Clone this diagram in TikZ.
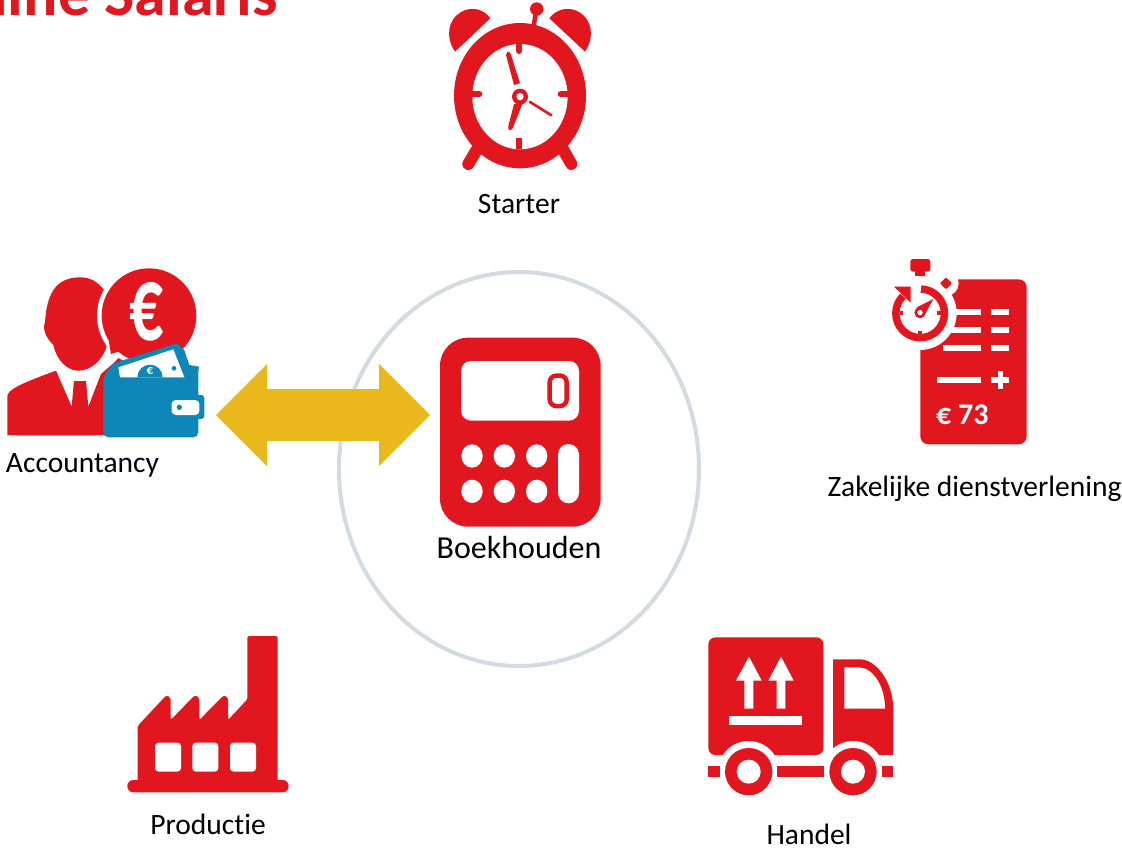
\documentclass[tikz,border=0pt]{standalone}
\usepackage{fontspec}
\setmainfont[Ligatures=NoCommon]{Carlito}
\definecolor{brandred}{HTML}{E2161F}
\definecolor{walletblue}{HTML}{0E86B8}
\definecolor{arrowgold}{HTML}{E9B81A}
\definecolor{ringgrey}{HTML}{D3DBE1}
\tikzset{
  lbl/.style={font=\fontsize{29.5}{32}\selectfont,text=black,inner sep=0pt},
  icon/.style={shift={#1},scale=1/3}
}
\begin{document}
\begin{tikzpicture}[x=1pt,y=-1pt]
\useasboundingbox (0,0) rectangle (1122,848);
\clip (0,0) rectangle (1122,848);
\node[anchor=base east,inner sep=0pt,text=brandred,font=\fontsize{64}{66}\selectfont\bfseries] (title) at (278,16) {Online Salaris};
% ring
\draw[ringgrey,line width=4pt] (519,469) ellipse [x radius=180,y radius=197];
% double arrow
\fill[arrowgold] (216,415) -- (267,364) -- (267,389) -- (379,389) -- (379,364) -- (430,415) -- (379,466) -- (379,441) -- (267,441) -- (267,466) -- cycle;
% clock
\begin{scope}[icon={(430,0)}]
 \fill[brandred] (75,155) .. controls (45,110) and (55,60) .. (90,38) .. controls (120,18) and (160,25) .. (181,55) -- cycle;
 \fill[brandred] (465,155) .. controls (495,110) and (485,60) .. (450,38) .. controls (420,18) and (380,25) .. (358,55) -- cycle;
 \fill[brandred] (320,27) circle [radius=20];
 \draw[brandred,line width=4.5pt] (317,40) -- (311,80);
 \draw[brandred,line width=12pt,line cap=round] (140,450) -- (115,492);
 \draw[brandred,line width=12pt,line cap=round] (400,450) -- (424,492);
 \fill[brandred] (270,287) ellipse [x radius=198,y radius=218];
 \fill[white] (270,290) ellipse [x radius=143,y radius=158];
 \draw[brandred,line width=6pt,line cap=round] (268,135) -- (268,153);
 \draw[brandred,line width=6pt,line cap=round] (125,283) -- (148,283);
 \draw[brandred,line width=6pt,line cap=round] (415,283) -- (392,283);
 \draw[brandred,line width=6pt] (268,448) -- (268,415);
 \fill[brandred] (228,165) .. controls (230,152) and (240,152) .. (243,165) -- (270,250) -- (252,255) -- cycle;
 \fill[brandred] (252,312) -- (277,312) -- (248,385) .. controls (242,395) and (232,390) .. (235,378) -- cycle;
 \draw[brandred,line width=2.6pt,line cap=round] (300,306) -- (364,346);
 \fill[brandred] (270,290) circle [radius=24];
 \fill[white] (270,290) circle [radius=11];
\end{scope}
\node[lbl] (starter) at (519,204.5) {Starter};
% accountancy
\begin{scope}[icon={(0,250)}]
 \fill[brandred] (22,556) -- (22,438) .. controls (25,420) and (50,405) .. (168,362) -- (215,470) -- (222,393) -- (258,393) -- (265,470) -- (303,372) -- (340,340) -- (380,300) -- (420,320) -- (420,556) -- cycle;
 \fill[brandred] (235,82) .. controls (270,80) and (295,95) .. (320,130) -- (320,290) .. controls (305,335) and (270,362) .. (235,362) .. controls (200,362) and (170,330) .. (160,285) .. controls (145,270) and (125,245) .. (135,215) .. controls (140,160) and (150,85) .. (235,82) -- cycle;
 \fill[white] (447,197) circle [radius=156];
 \fill[brandred] (447,197) circle [radius=142];
 \fill[brandred] (326,270) -- (333,312) -- (400,290) -- cycle;
 \node[text=white,inner sep=0pt] (euro) at (440,186) {\scalebox{0.63}[1]{\fontsize{107}{107}\selectfont\bfseries €}};
 \fill[walletblue] (310,380) -- (340,340) -- (530,280) -- (553,300) -- (568,345) -- (597,350) -- (595,365) -- (595,545) [rounded corners=5pt] -- (595,562) -- (310,562) -- cycle;
 \fill[white] (355,352) -- (520,298) -- (553,382) -- (360,382) -- cycle;
 \fill[walletblue] (412,382) arc [start angle=180,end angle=360,radius=38] -- cycle;
 \node[text=white,inner sep=0pt,font=\fontsize{13}{13}\selectfont\bfseries] (coin) at (450,364) {€};
 \fill[walletblue] (522,355) circle [radius=7];
 \fill[walletblue,rounded corners=3pt] (560,435) rectangle (613,507);
 \fill[white,rounded corners=4pt] (515,450) rectangle (598,495);
 \fill[walletblue] (538,472) circle [radius=8];
\end{scope}
\node[lbl] (accountancy) at (82.5,465) {Accountancy};
% calculator
\begin{scope}[icon={(420,325)}]
 \fill[brandred,rounded corners=28pt] (60,38) rectangle (542,605);
 \fill[white,rounded corners=10pt] (123,108) rectangle (477,287);
 \draw[brandred,line width=4.5pt,rounded corners=6.5pt] (389,152) rectangle (440,243);
 \foreach \bx in {156,253,350}{\foreach \by in {393,499}{
   \fill[white] (\bx,\by) ellipse [x radius=32,y radius=35];}}
 \fill[white,rounded corners=10.5pt] (414,357) rectangle (477,535);
\end{scope}
\node[lbl,font=\fontsize{32}{34}\selectfont] (boekhouden) at (519,547.5) {Boekhouden};
% bill
\begin{scope}[icon={(870,250)}]
 \fill[brandred,rounded corners=8pt] (151,88) rectangle (470,583);
 \foreach \ry/\xa in {178/240,232/230,286/218}{
   \fill[white] (\xa,\ry) rectangle (334,\ry+16);
   \fill[white] (364,\ry) rectangle (418,\ry+16);}
 \fill[white] (150,190) circle [radius=110];
 \fill[white] (228,100) circle [radius=38];
 \fill[white] (100,40) rectangle (151,310);
 \fill[white] (200,381) rectangle (334,398);
 \fill[white] (364,381) rectangle (418,398);
 \fill[white] (383,363) rectangle (400,418);
 \node[anchor=base west,text=white,inner sep=0pt,font=\fontsize{30}{31}\selectfont\bfseries] (amount) at (198,524) {€ 73};
 \fill[brandred,rounded corners=2.5pt] (121,27) rectangle (181,65);
 \fill[brandred] (135,60) rectangle (165,78);
 \fill[brandred,rounded corners=1pt] (228,82) -- (246,100) -- (228,118) -- (210,100) -- cycle;
 \draw[brandred,line width=7.5pt] (153,117) arc [start angle=-88,end angle=225,radius=73];
 \fill[brandred] (72,110) -- (122,110) -- (122,158) -- cycle;
 \draw[brandred,line width=4pt] (89,188) -- (100,188);
 \draw[brandred,line width=4pt] (200,188) -- (214,188);
 \draw[brandred,line width=4pt] (150,243) -- (150,258);
 \fill[brandred] (190,147) -- (164,195) -- (140,172) -- cycle;
 \fill[brandred] (150,188) circle [radius=17];
 \fill[white] (150,188) circle [radius=8];
\end{scope}
\node[lbl] (zakelijk) at (974.5,489) {Zakelijke dienstverlening};
% factory
\begin{scope}[icon={(110,620)}]
 \fill[brandred,rounded corners=1.5pt] (83,490) -- (83,318) -- (165,230) -- (172,226) -- (182,235) -- (182,300) -- (250,230) -- (258,226) -- (268,235) -- (268,300) -- (337,230) -- (345,226) -- (354,235) -- (354,300) -- (412,238) -- (412,48) -- (503,48) -- (503,490) -- cycle;
 \fill[brandred,rounded corners=6pt] (52,480) rectangle (536,517);
 \foreach \wx in {135,247,360}{
   \fill[white,rounded corners=3.5pt] (\wx,368) rectangle (\wx+78,455);}
\end{scope}
\node[lbl] (productie) at (208,824) {Productie};
% truck
\begin{scope}[icon={(690,620)}]
 \fill[brandred,rounded corners=7pt] (55,405) -- (55,52) -- (400,52) -- (400,405) -- cycle;
 \fill[brandred] (429,118) -- (510,118) .. controls (560,118) and (609,190) .. (609,260) -- (609,405) -- (429,405) -- cycle;
 \fill[white] (176,455) circle [radius=92];
 \fill[white] (489,455) circle [radius=92];
 \fill[white] (463,142) -- (505,142) .. controls (550,142) and (585,200) .. (585,266) -- (463,266) -- cycle;
 \fill[white] (177,110) -- (215,182) -- (190,182) -- (190,266) -- (163,266) -- (163,182) -- (138,182) -- cycle;
 \fill[white] (273,110) -- (311,182) -- (286,182) -- (286,266) -- (260,266) -- (260,182) -- (235,182) -- cycle;
 \fill[white] (117,287) rectangle (336,314);
 \fill[brandred] (55,437) rectangle (90,472);
 \fill[brandred] (262,437) rectangle (403,472);
 \fill[brandred] (575,437) rectangle (609,472);
 \foreach \wx in {176,489}{
   \fill[brandred] (\wx,455) circle [radius=71];
   \fill[white] (\wx,455) circle [radius=36];}
\end{scope}
\node[lbl] (handel) at (809,834) {Handel};
\end{tikzpicture}
\end{document}
